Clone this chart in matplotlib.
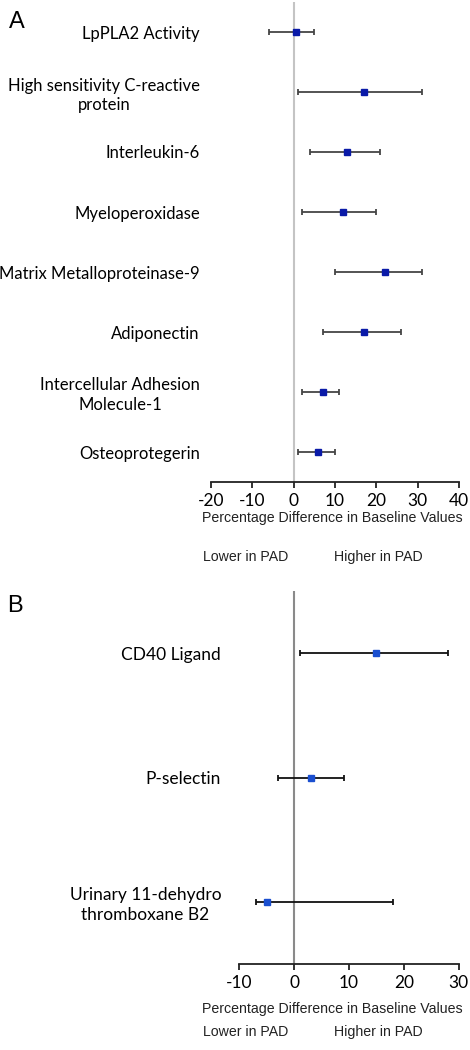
import matplotlib
matplotlib.use('Agg')
import matplotlib.pyplot as plt

# panel A data
markers_a = ['LpPLA2 Activity', 'High sensitivity C-reactive\nprotein', 'Interleukin-6',
             'Myeloperoxidase', 'Matrix Metalloproteinase-9', 'Adiponectin',
             'Intercellular Adhesion\nMolecule-1', 'Osteoprotegerin']
diff_a = [0.5, 17, 13, 12, 22, 17, 7, 6]
low_a = [-6, 1, 4, 2, 10, 7, 2, 1]
high_a = [5, 31, 21, 20, 31, 26, 11, 10]
xticks_a = [-20, -10, 0, 10, 20, 30, 40]

# panel B data
markers_b = ['CD40 Ligand', 'P-selectin', 'Urinary 11-dehydro\nthromboxane B2']
diff_b = [15, 3, -5]
low_b = [1, -3, -7]
high_b = [28, 9, 18]
xticks_b = [-10, 0, 10, 20, 30]

W, H = 470, 1050
LABEL_FONT = 'Lato'
AXIS_FONT = 'Liberation Sans'

fig = plt.figure(figsize=(W / 100, H / 100), dpi=100)


def px(x0, y0, x1, y1):
    # pixel box -> figure fraction rect
    return [x0 / W, 1 - y1 / H, (x1 - x0) / W, (y1 - y0) / H]


def forest(ax, names, diff, low, high, xticks, vcolor, ecolor, mcolor, lsize, pad):
    ypos = list(range(len(names)))
    xerr = [[d - l for d, l in zip(diff, low)], [h - d for d, h in zip(diff, high)]]
    ax.axvline(0, color=vcolor, lw=1.5, zorder=1)
    ax.errorbar(diff, ypos, xerr=xerr, fmt='s', color=mcolor, ecolor=ecolor,
                elinewidth=1.3, capsize=2.5, capthick=1.3, markersize=4.5, zorder=3)
    ax.set_ylim(len(names) - 0.5, -0.5)
    ax.set_xlim(xticks[0], xticks[-1])
    ax.set_xticks(xticks)
    ax.set_xticklabels([str(t) for t in xticks], fontfamily=LABEL_FONT, fontsize=12.5)
    ax.set_yticks(ypos)
    ax.set_yticklabels(names, fontfamily=LABEL_FONT, fontsize=lsize, linespacing=1.25)
    for t in ax.get_yticklabels():
        t.set_multialignment('center')
    ax.tick_params(axis='y', length=0, pad=pad)
    ax.tick_params(axis='x', length=4, width=1.3, color='#222222', pad=4)
    for s in ['top', 'right', 'left']:
        ax.spines[s].set_visible(False)
    ax.spines['bottom'].set_linewidth(1.3)
    ax.spines['bottom'].set_color('#222222')


ax_a = fig.add_axes(px(211, 2, 459, 482))
forest(ax_a, markers_a, diff_a, low_a, high_a, xticks_a,
       '#c4c4c4', '#454545', '#0a1aa8', 12, 8)

ax_b = fig.add_axes(px(239.3, 591, 458.7, 964))
forest(ax_b, markers_b, diff_b, low_b, high_b, xticks_b,
       '#8a8a8a', '#111111', '#1a4fd0', 12.5, 13)

# panel letters and bottom captions
fig.text(9 / W, 1 - 22 / H, 'A', fontfamily=AXIS_FONT, fontsize=17, va='center', ha='left')
fig.text(7 / W, 1 - 606 / H, 'B', fontfamily=AXIS_FONT, fontsize=17, va='center', ha='left')

for ycap, ylow in [(518, 557), (1009, 1032)]:
    fig.text(332 / W, 1 - ycap / H, 'Percentage Difference in Baseline Values',
             fontfamily=AXIS_FONT, fontsize=10.2, ha='center', va='center', color='#222222')
    fig.text(203 / W, 1 - ylow / H, 'Lower in PAD', fontfamily=AXIS_FONT,
             fontsize=10.2, ha='left', va='center', color='#222222')
    fig.text(334 / W, 1 - ylow / H, 'Higher in PAD', fontfamily=AXIS_FONT,
             fontsize=10.2, ha='left', va='center', color='#222222')

fig.savefig('out.png', dpi=100)
